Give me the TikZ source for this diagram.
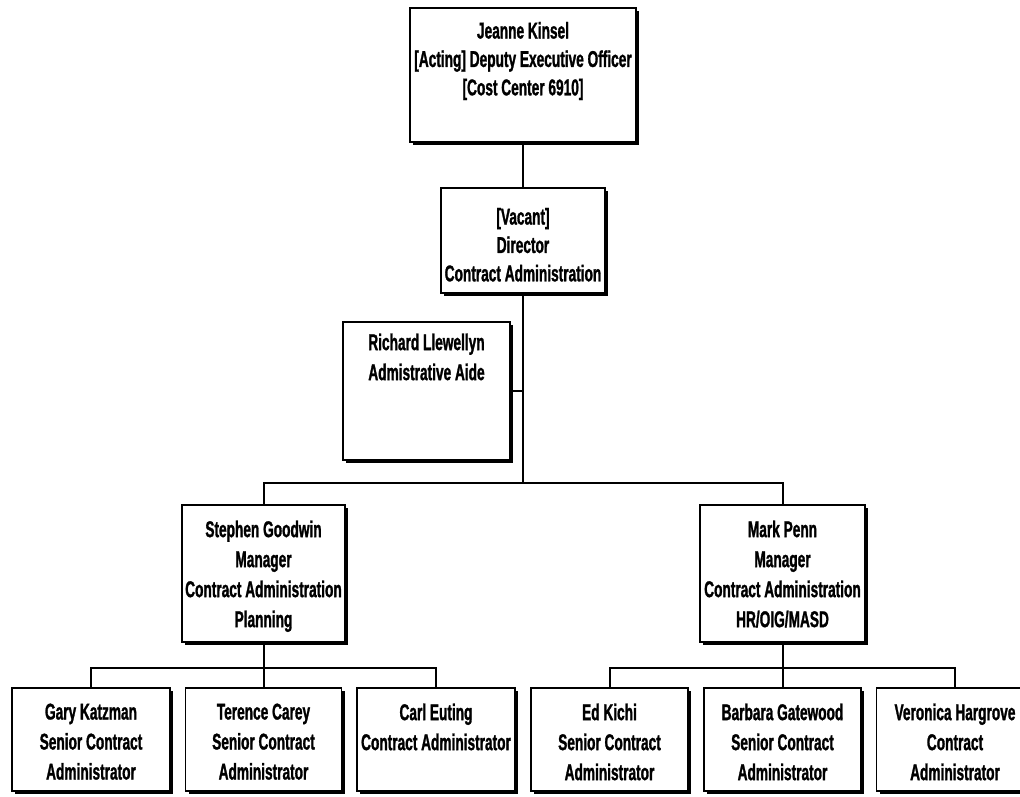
\documentclass[tikz,border=0pt]{standalone}
\usepackage{fontspec}
\setmainfont{Liberation Sans}[FakeStretch=0.6, BoldFeatures={FakeBold=1.2}]
\usetikzlibrary{calc, shadows}

% text of one box: width, height, top padding, lines
\newcommand{\orgcell}[4]{%
  \begin{minipage}[c][#2][t]{#1}\centering\vspace*{#3}#4\end{minipage}}

\begin{document}
\begin{tikzpicture}[
  x=0.5pt, y=-0.5pt,
  unit/.style={draw, fill=white, line width=0.6pt, inner sep=0pt,
    font=\bfseries\fontsize{11.4}{15}\selectfont,
    drop shadow={shadow xshift=1.5pt, shadow yshift=-1.5pt, fill=black, opacity=1}},
  tight/.style={font=\bfseries\fontsize{11.4}{14.2}\selectfont},
  link/.style={line width=1pt},
]
\useasboundingbox (0,0) rectangle (1020,796);
\clip (0,0) rectangle (1020,796);

% top of the chart
\node[unit, tight] (kinsel) at (523,75)
  {\orgcell{113pt}{67pt}{7pt}{Jeanne Kinsel\\{}[Acting] Deputy Executive Officer\\{}[Cost Center 6910]}};
\node[unit, tight] (director) at (523,240.5)
  {\orgcell{82pt}{52.5pt}{10pt}{[Vacant]\\Director\\Contract Administration}};
\node[unit] (llewellyn) at (426.5,391)
  {\orgcell{83.5pt}{69pt}{5.8pt}{Richard Llewellyn\\Admistrative Aide}};

% managers
\node[unit] (goodwin) at (263.5,573.5)
  {\orgcell{81.5pt}{68.5pt}{7.8pt}{Stephen Goodwin\\Manager\\Contract Administration\\Planning}};
\node[unit] (penn) at (782.5,573.5)
  {\orgcell{82.5pt}{68.5pt}{7.8pt}{Mark Penn\\Manager\\Contract Administration\\HR/OIG/MASD}};

% staff
\node[unit] (katzman) at (91,739.5)
  {\orgcell{79pt}{51.5pt}{7.8pt}{Gary Katzman\\Senior Contract\\Administrator}};
\node[unit] (carey) at (263.5,739.5)
  {\orgcell{78pt}{51.5pt}{7.8pt}{Terence Carey\\Senior Contract\\Administrator}};
\node[unit] (euting) at (436,739.5)
  {\orgcell{79pt}{51.5pt}{7.8pt}{Carl Euting\\Contract Administrator}};
\node[unit] (kichi) at (609.5,739.5)
  {\orgcell{78.5pt}{51.5pt}{7.8pt}{Ed Kichi\\Senior Contract\\Administrator}};
\node[unit] (gatewood) at (782.5,739.5)
  {\orgcell{78.5pt}{51.5pt}{7.8pt}{Barbara Gatewood\\Senior Contract\\Administrator}};
\node[unit] (hargrove) at (955,739.5)
  {\orgcell{78.5pt}{51.5pt}{7.8pt}{Veronica Hargrove\\Contract\\Administrator}};

% connectors
\coordinate (split) at (523,483);
\coordinate (gsplit) at ($(goodwin.south)+(0,25)$);
\coordinate (psplit) at ($(penn.south)+(0,25)$);

\begin{scope}[link]
  \draw (kinsel.south) -- (director.north);
  \draw (director.south) -- (split);
  \draw (llewellyn.east) -- (llewellyn.east -| split);
  \draw (goodwin.north) |- (split) -| (penn.north);
  \draw (goodwin.south) -- (carey.north);
  \draw (katzman.north) |- (gsplit) -| (euting.north);
  \draw (penn.south) -- (gatewood.north);
  \draw (kichi.north) |- (psplit) -| (hargrove.north);
\end{scope}

\end{tikzpicture}
\end{document}
